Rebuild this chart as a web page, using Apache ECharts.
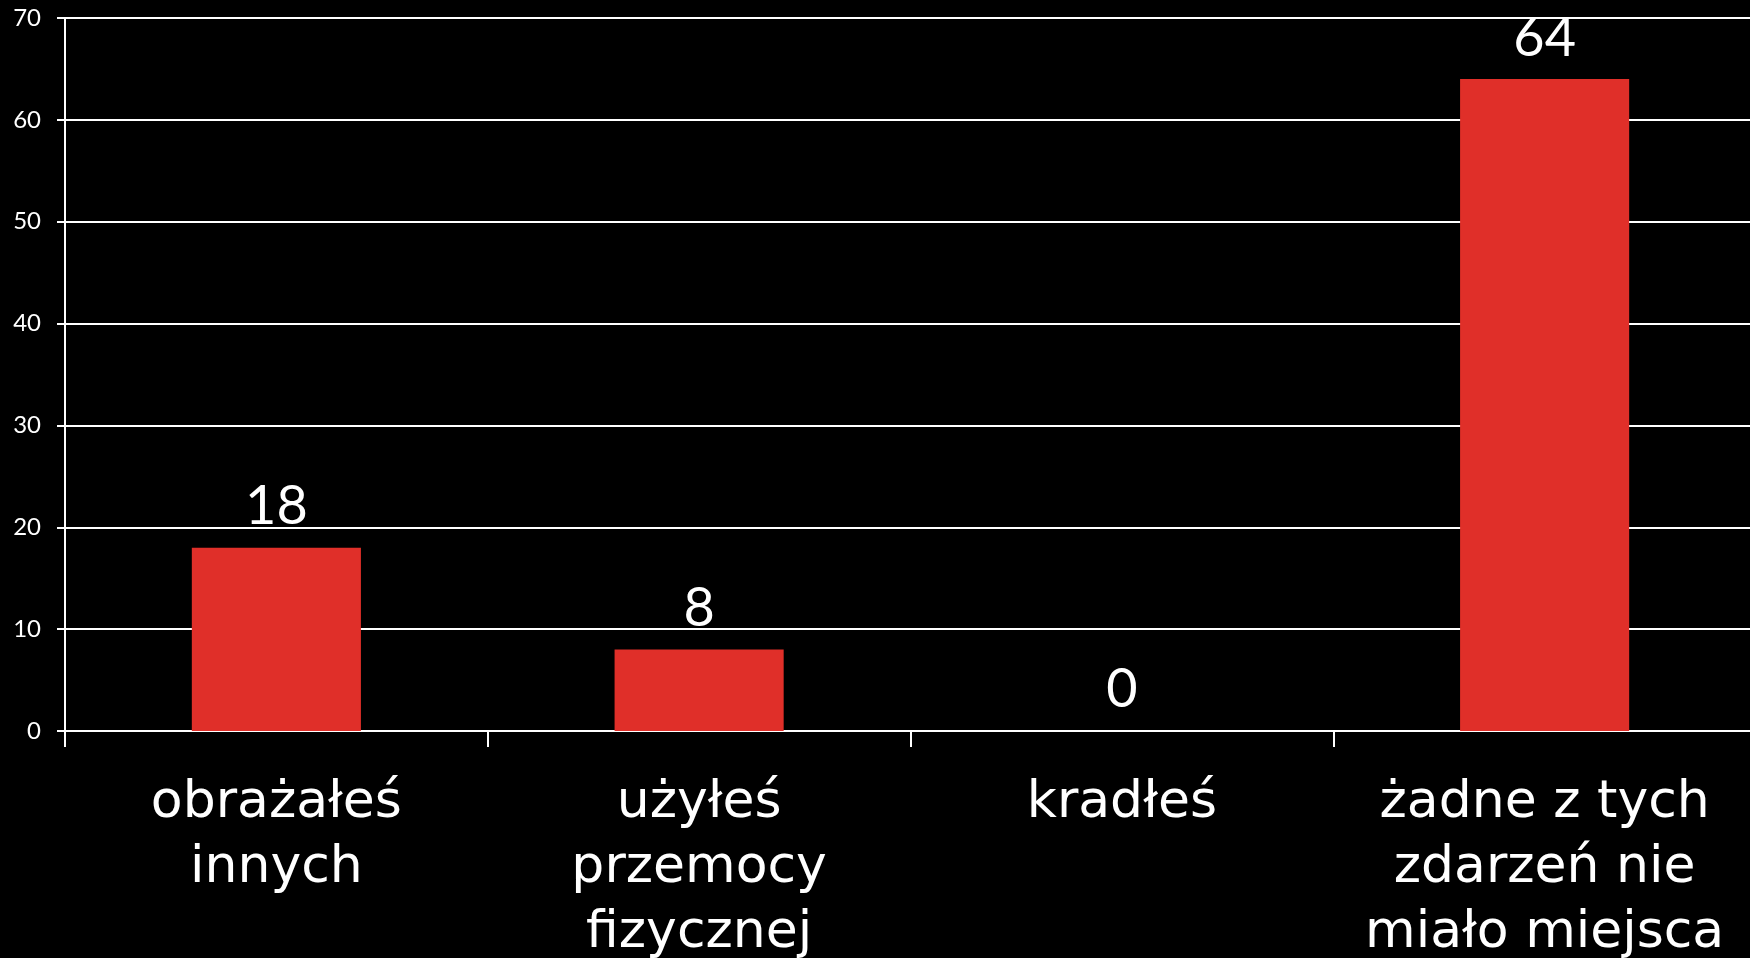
<!DOCTYPE html>
<html><head><meta charset="utf-8">
<script src="https://cdn.jsdelivr.net/npm/echarts@6/dist/echarts.min.js"></script>
<style>html,body{margin:0;padding:0;background:#000;}#c{width:1750px;height:958px;}</style>
</head><body><div id="c"></div>
<script>
const categories = ['obrażałeś\ninnych', 'użyłeś\nprzemocy\nfizycznej', 'kradłeś', 'żadne z tych\nzdarzeń nie\nmiało miejsca'];
const values = [18, 8, 0, 64];
const yTicks = [0, 10, 20, 30, 40, 50, 60, 70];
const font = 'Lato, "Open Sans", sans-serif';
const catFont = '"DejaVu Sans", sans-serif';
const chart = echarts.init(document.getElementById('c'));
chart.setOption({
  backgroundColor: '#000',
  animation: false,
  grid: {left: 65, right: -6, top: 18, bottom: 227, containLabel: false, outerBoundsMode: 'none'},
  xAxis: {
    type: 'category', data: categories,
    axisLine: {lineStyle: {color: '#fff', width: 2}},
    axisTick: {show: true, length: 16, lineStyle: {color: '#fff', width: 2}},
    axisLabel: {color: '#fff', fontSize: 52, fontFamily: catFont, lineHeight: 65, margin: 40, interval: 0}
  },
  yAxis: {
    type: 'value', min: yTicks[0], max: yTicks[yTicks.length - 1], interval: 10,
    axisLine: {show: true, lineStyle: {color: '#fff', width: 2}},
    axisTick: {show: true, length: 8, lineStyle: {color: '#fff', width: 2}},
    splitLine: {lineStyle: {color: '#fff', width: 2}},
    axisLabel: {color: '#fff', fontSize: 24, fontFamily: font, margin: 24}
  },
  series: [{
    type: 'bar', data: values, barWidth: '40%',
    itemStyle: {color: '#E02F29'},
    label: {show: true, position: 'top', color: '#fff', fontSize: 54, fontFamily: font, distance: 14}
  }]
});
</script></body></html>
